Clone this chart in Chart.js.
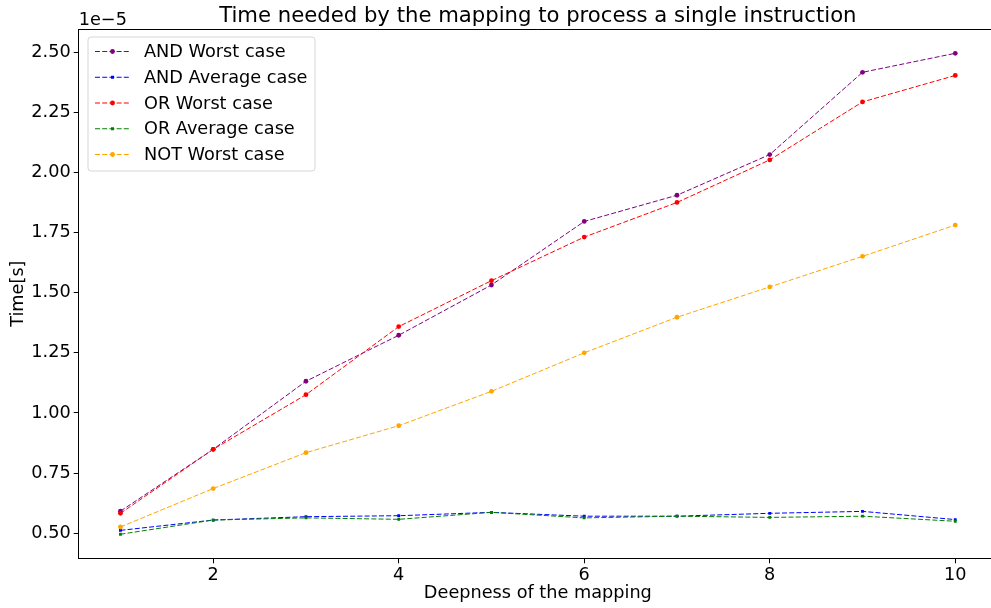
<!DOCTYPE html>
<html>
<head>
<meta charset="utf-8">
<script src="https://cdn.jsdelivr.net/npm/chart.js@4.4.0/dist/chart.umd.min.js"></script>
<style>
	html, body { margin: 0; padding: 0; overflow: hidden; background: #fff; }
	canvas { display: block; }
</style>
</head>
<body>
<canvas id="chart" width="1001" height="608"></canvas>
<script>
// deepness of the mapping -> time per instruction, in units of 1e-5 s
const depth = [1, 2, 3, 4, 5, 6, 7, 8, 9, 10];
const andWorst = [0.592, 0.849, 1.132, 1.323, 1.532, 1.796, 1.905, 2.074, 2.416, 2.495];
const andAverage = [0.512, 0.555, 0.569, 0.573, 0.587, 0.571, 0.571, 0.583, 0.591, 0.557];
const orWorst = [0.583, 0.849, 1.076, 1.359, 1.550, 1.731, 1.875, 2.052, 2.293, 2.403];
const orAverage = [0.496, 0.555, 0.564, 0.558, 0.587, 0.564, 0.571, 0.566, 0.571, 0.550];
const notWorst = [0.526, 0.686, 0.835, 0.947, 1.090, 1.250, 1.398, 1.524, 1.651, 1.781];

const xTicks = [2, 4, 6, 8, 10];
const yTicks = [0.50, 0.75, 1.00, 1.25, 1.50, 1.75, 2.00, 2.25, 2.50];

const FONT = 'DejaVu Sans';
const SIZE = 17.7;

function series(label, values, color, style)
{
	return {
		label: label,
		data: depth.map((d, i) => ({x: d, y: values[i]})),
		borderColor: color,
		backgroundColor: color,
		borderWidth: 1,
		borderDash: [5, 2.2],
		pointStyle: style,
		pointRadius: style === 'rect' ? 2 : 2.4,
		pointBorderWidth: 0,
		fill: false,
		tension: 0,
	};
}

const datasets = [
	series('AND Worst case', andWorst, '#800080', 'circle'),
	series('AND Average case', andAverage, '#0000ff', 'rect'),
	series('OR Worst case', orWorst, '#ff0000', 'circle'),
	series('OR Average case', orAverage, '#008000', 'rect'),
	series('NOT Worst case', notWorst, '#ffa500', 'circle'),
];
// later series on top, like matplotlib
datasets.forEach((ds, i) => { ds.order = datasets.length - i; });

// title, offset text, top spine and the legend box inside the axes
const decorations = {
	id: 'decorations',
	afterDraw(chart)
	{
		const ctx = chart.ctx;
		const area = chart.chartArea;
		ctx.save();

		ctx.strokeStyle = '#000';
		ctx.lineWidth = 1;
		ctx.beginPath();
		ctx.moveTo(area.left, area.top + 0.5);
		ctx.lineTo(area.right, area.top + 0.5);
		ctx.stroke();

		ctx.fillStyle = '#000';
		ctx.font = '21.2px "' + FONT + '"';
		ctx.textAlign = 'center';
		ctx.textBaseline = 'alphabetic';
		ctx.fillText('Time needed by the mapping to process a single instruction', (area.left + area.right) / 2, 22);

		ctx.font = SIZE + 'px "' + FONT + '"';
		ctx.textAlign = 'left';
		ctx.fillText('1e\u22125', area.left, 25);

		// legend
		const bx = 88, by = 37, bw = 227, bh = 134, r = 3;
		ctx.beginPath();
		ctx.moveTo(bx + r, by);
		ctx.arcTo(bx + bw, by, bx + bw, by + bh, r);
		ctx.arcTo(bx + bw, by + bh, bx, by + bh, r);
		ctx.arcTo(bx, by + bh, bx, by, r);
		ctx.arcTo(bx, by, bx + bw, by, r);
		ctx.closePath();
		ctx.fillStyle = 'rgba(255,255,255,0.8)';
		ctx.fill();
		ctx.strokeStyle = '#d6d6d6';
		ctx.stroke();

		chart.data.datasets.forEach((ds, i) => {
			const y = 51.5 + i * 25.75;
			ctx.strokeStyle = ds.borderColor;
			ctx.lineWidth = 1;
			ctx.setLineDash(ds.borderDash);
			ctx.beginPath();
			ctx.moveTo(95, y);
			ctx.lineTo(130, y);
			ctx.stroke();
			ctx.setLineDash([]);
			ctx.fillStyle = ds.backgroundColor;
			if (ds.pointStyle === 'rect')
			{
				ctx.fillRect(112.5 - 1.5, y - 1.5, 3, 3);
			}
			else
			{
				ctx.beginPath();
				ctx.arc(112.5, y, 2.4, 0, Math.PI * 2);
				ctx.fill();
			}
			ctx.fillStyle = '#000';
			ctx.font = SIZE + 'px "' + FONT + '"';
			ctx.textBaseline = 'middle';
			ctx.fillText(ds.label, 144, y + 1);
		});

		ctx.restore();
	}
};

new Chart(document.getElementById('chart'), {
	type: 'line',
	data: {datasets: datasets},
	plugins: [decorations],
	options: {
		responsive: false,
		animation: false,
		events: [],
		layout: {padding: {left: 0, right: 0, top: 29, bottom: 0}},
		plugins: {
			legend: {display: false},
			title: {display: false},
			tooltip: {enabled: false},
		},
		scales: {
			x: {
				type: 'linear',
				min: 0.55,
				max: 10.45,
				afterFit: (scale) => { scale.height = 49.7; },
				afterBuildTicks: (scale) => { scale.ticks = xTicks.map(v => ({value: v})); },
				grid: {drawOnChartArea: false, drawTicks: true, tickLength: 5, tickColor: '#000'},
				border: {display: true, color: '#000', width: 1},
				ticks: {
					color: '#000',
					font: {family: FONT, size: SIZE},
					padding: 1,
					maxRotation: 0,
					autoSkip: false,
					callback: (v) => String(v),
				},
				title: {
					display: true,
					text: 'Deepness of the mapping',
					color: '#000',
					font: {family: FONT, size: SIZE},
					padding: {top: 0, bottom: 4},
				},
			},
			y: {
				type: 'linear',
				min: 0.396,
				max: 2.596,
				afterFit: (scale) => { scale.width = 78.7; },
				afterBuildTicks: (scale) => { scale.ticks = yTicks.map(v => ({value: v})); },
				grid: {drawOnChartArea: false, drawTicks: true, tickLength: 5, tickColor: '#000'},
				border: {display: true, color: '#000', width: 1},
				ticks: {
					color: '#000',
					font: {family: FONT, size: SIZE},
					padding: 3,
					autoSkip: false,
					callback: (v) => v.toFixed(2),
				},
				title: {
					display: true,
					text: 'Time[s]',
					color: '#000',
					font: {family: FONT, size: SIZE},
					padding: {top: 8, bottom: 0},
				},
			},
		},
	},
});
</script>
</body>
</html>
